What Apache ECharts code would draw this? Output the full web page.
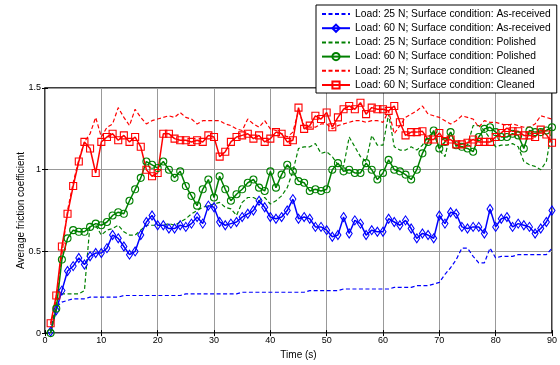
<!DOCTYPE html>
<html>
<head>
<meta charset="utf-8">
<script src="https://cdn.jsdelivr.net/npm/echarts@6/dist/echarts.min.js"></script>
<style>
  html, body { margin: 0; padding: 0; background: #fff; }
  #chart { width: 560px; height: 365px; }
</style>
</head>
<body>
<div id="chart"></div>
<script>
// time in seconds, one reading per second
const time = [];
for (let t = 1; t <= 90; t++) time.push(t);

const xTicks = [0, 10, 20, 30, 40, 50, 60, 70, 80, 90];
const yTicks = [0, 0.5, 1, 1.5];

const names = [
  "Load: 25 N; Surface condition: As-received",
  "Load: 60 N; Surface condition: As-received",
  "Load: 25 N; Surface condition: Polished",
  "Load: 60 N; Surface condition: Polished",
  "Load: 25 N; Surface condition: Cleaned",
  "Load: 60 N; Surface condition: Cleaned"
];

const asRec25 = [0.01, 0.16, 0.19, 0.20, 0.21, 0.21, 0.21, 0.22, 0.22, 0.22,
  0.22, 0.22, 0.22, 0.23, 0.23, 0.23, 0.23, 0.23, 0.23, 0.23,
  0.23, 0.23, 0.23, 0.23, 0.24, 0.24, 0.24, 0.24, 0.24, 0.24,
  0.24, 0.24, 0.24, 0.24, 0.25, 0.25, 0.25, 0.25, 0.25, 0.25,
  0.25, 0.25, 0.25, 0.25, 0.25, 0.25, 0.26, 0.26, 0.26, 0.26,
  0.26, 0.26, 0.27, 0.27, 0.27, 0.27, 0.27, 0.27, 0.27, 0.27,
  0.27, 0.28, 0.28, 0.28, 0.28, 0.29, 0.29, 0.29, 0.30, 0.31,
  0.36, 0.40, 0.45, 0.52, 0.52, 0.47, 0.43, 0.43, 0.52, 0.46,
  0.47, 0.47, 0.47, 0.48, 0.48, 0.48, 0.48, 0.48, 0.48, 0.52];

const asRec60 = [0.01, 0.14, 0.26, 0.38, 0.41, 0.46, 0.42, 0.47, 0.49, 0.49,
  0.52, 0.60, 0.58, 0.53, 0.48, 0.50, 0.60, 0.68, 0.72, 0.66,
  0.66, 0.64, 0.64, 0.66, 0.65, 0.67, 0.71, 0.67, 0.78, 0.77,
  0.68, 0.66, 0.67, 0.68, 0.71, 0.73, 0.75, 0.81, 0.77, 0.71,
  0.70, 0.71, 0.75, 0.82, 0.70, 0.71, 0.70, 0.65, 0.65, 0.63,
  0.59, 0.60, 0.71, 0.61, 0.69, 0.67, 0.60, 0.63, 0.62, 0.62,
  0.70, 0.68, 0.66, 0.69, 0.64, 0.58, 0.61, 0.60, 0.58, 0.72,
  0.67, 0.74, 0.73, 0.65, 0.64, 0.65, 0.65, 0.61, 0.76, 0.65,
  0.70, 0.71, 0.65, 0.67, 0.66, 0.65, 0.61, 0.64, 0.68, 0.75];

const polished25 = [0.01, 0.19, 0.24, 0.24, 0.24, 0.24, 0.26, 0.67, 0.66, 0.60,
  0.63, 0.64, 0.66, 0.62, 0.60, 0.60, 0.63, 0.66, 0.66, 0.66,
  0.66, 0.67, 0.66, 0.68, 0.70, 0.73, 0.75, 0.77, 0.78, 0.79,
  0.80, 0.77, 0.76, 0.72, 0.80, 0.83, 0.83, 0.81, 0.83, 0.79,
  0.81, 0.84, 0.89, 0.99, 1.13, 1.14, 1.14, 1.16, 1.10, 1.11,
  1.08, 1.03, 1.02, 1.20, 1.14, 1.08, 1.05, 1.21, 1.15, 1.15,
  1.34, 1.14, 1.12, 1.12, 1.14, 1.12, 1.15, 1.20, 1.23, 1.12,
  1.08, 1.23, 1.14, 1.14, 1.15, 1.27, 1.27, 1.24, 1.19, 1.14,
  1.15, 1.15, 1.16, 1.14, 1.05, 1.03, 1.02, 1.00, 1.05, 1.25];

const polished60 = [0.00, 0.15, 0.45, 0.58, 0.63, 0.62, 0.62, 0.65, 0.67, 0.66,
  0.68, 0.72, 0.74, 0.73, 0.81, 0.88, 0.95, 1.05, 1.03, 1.01,
  1.05, 1.00, 0.95, 0.99, 0.90, 0.84, 0.78, 0.88, 0.94, 0.83,
  0.96, 0.88, 0.81, 0.85, 0.88, 0.92, 0.94, 0.89, 0.87, 0.99,
  0.89, 0.97, 1.03, 0.99, 0.93, 0.92, 0.87, 0.88, 0.87, 0.88,
  1.00, 1.04, 0.99, 1.00, 0.98, 0.98, 1.04, 1.00, 0.94, 0.98,
  1.06, 1.00, 0.99, 0.97, 0.94, 1.00, 1.10, 1.17, 1.24, 1.13,
  1.17, 1.23, 1.15, 1.14, 1.13, 1.11, 1.20, 1.25, 1.26, 1.23,
  1.20, 1.20, 1.22, 1.21, 1.13, 1.24, 1.23, 1.23, 1.24, 1.26];

const cleaned25 = [0.05, 0.20, 0.48, 0.75, 0.92, 1.06, 1.17, 1.22, 1.32, 1.20,
  1.26, 1.28, 1.38, 1.32, 1.27, 1.37, 1.32, 1.28, 1.30, 1.31,
  1.32, 1.33, 1.32, 1.35, 1.32, 1.31, 1.28, 1.30, 1.30, 1.30,
  1.30, 1.28, 1.27, 1.25, 1.24, 1.31, 1.28, 1.26, 1.30, 1.25,
  1.24, 1.22, 1.20, 1.23, 1.36, 1.27, 1.26, 1.26, 1.28, 1.28,
  1.25, 1.27, 1.28, 1.29, 1.30, 1.30, 1.29, 1.30, 1.30, 1.29,
  1.36, 1.22, 1.27, 1.32, 1.34, 1.36, 1.39, 1.34, 1.33, 1.32,
  1.30, 1.28, 1.30, 1.33, 1.32, 1.31, 1.26, 1.30, 1.29, 1.29,
  1.28, 1.27, 1.28, 1.27, 1.26, 1.26, 1.28, 1.33, 1.32, 1.31];

const cleaned60 = [0.06, 0.23, 0.53, 0.73, 0.90, 1.05, 1.17, 1.13, 0.98, 1.17,
  1.20, 1.22, 1.18, 1.21, 1.17, 1.20, 1.14, 1.00, 0.96, 0.98,
  1.22, 1.22, 1.19, 1.18, 1.18, 1.17, 1.18, 1.17, 1.21, 1.20,
  1.08, 1.11, 1.17, 1.20, 1.21, 1.22, 1.19, 1.21, 1.17, 1.19,
  1.23, 1.22, 1.17, 1.18, 1.38, 1.25, 1.27, 1.33, 1.31, 1.35,
  1.26, 1.32, 1.37, 1.39, 1.37, 1.41, 1.34, 1.38, 1.37, 1.37,
  1.36, 1.39, 1.29, 1.21, 1.23, 1.23, 1.235, 1.185, 1.185, 1.225,
  1.175, 1.185, 1.155, 1.155, 1.165, 1.185, 1.17, 1.17, 1.17, 1.20,
  1.225, 1.255, 1.235, 1.235, 1.21, 1.21, 1.20, 1.245, 1.215, 1.165];

const pairs = vals => time.map((t, i) => [t, vals[i]]);

const font = "Liberation Sans, Arial, sans-serif";
const chart = echarts.init(document.getElementById("chart"));

function dashed(name, vals, color) {
  return {
    name: name,
    type: "line",
    data: pairs(vals),
    symbol: "none",
    itemStyle: { color: color },
    lineStyle: { color: color, width: 1.2, type: [4, 2.5] },
    animation: false,
    z: 2
  };
}

function marked(name, vals, color, symbol, size) {
  return {
    name: name,
    type: "line",
    data: pairs(vals),
    symbol: symbol,
    symbolSize: size,
    showSymbol: true,
    itemStyle: { color: "rgba(255,255,255,0)", borderColor: color, borderWidth: 1.1 },
    lineStyle: { color: color, width: 1.5 },
    animation: false,
    z: 3
  };
}

// dashed entries get no marker in the legend
const legendData = names.map((n, i) => i % 2 === 0 ? { name: n, itemStyle: { opacity: 0 } } : { name: n });

const option = {
  backgroundColor: "#fff",
  textStyle: { fontFamily: font },
  grid: {
    left: 45, right: 5, top: 88, bottom: 26,
    show: true, borderColor: "#000", borderWidth: 1.5, backgroundColor: "transparent"
  },
  legend: {
    data: legendData,
    orient: "vertical",
    left: 316,
    top: 5,
    itemWidth: 28,
    itemHeight: 9,
    itemGap: 2.2,
    padding: [3, 6, 2, 5],
    backgroundColor: "#fff",
    borderColor: "#000",
    borderWidth: 1,
    textStyle: { fontFamily: font, fontSize: 10.3, lineHeight: 12, color: "#000" },
    z: 10
  },
  xAxis: [{
    type: "value",
    min: 0, max: 90, interval: 10,
    name: "Time (s)",
    nameLocation: "middle",
    nameGap: 16,
    nameTextStyle: { fontFamily: font, fontSize: 10, color: "#000" },
    axisLine: { show: false },
    axisTick: { show: true, inside: true, length: 3, lineStyle: { color: "#000" } },
    axisLabel: { fontFamily: font, fontSize: 9, color: "#000", margin: 3,
      formatter: v => xTicks.includes(v) ? String(v) : "" },
    splitLine: { show: true, lineStyle: { color: "#999", width: 1 } }
  }, {
    type: "value", position: "top",
    min: 0, max: 90, interval: 10,
    axisLine: { show: false },
    axisTick: { show: true, inside: true, length: 3, lineStyle: { color: "#000" } },
    axisLabel: { show: false },
    splitLine: { show: false }
  }],
  yAxis: [{
    type: "value",
    min: 0, max: 1.5, interval: 0.5,
    name: "Average friction coefficient",
    nameLocation: "middle",
    nameGap: 19,
    nameMoveOverlap: false,
    nameTextStyle: { fontFamily: font, fontSize: 10, color: "#000" },
    axisLine: { show: false },
    axisTick: { show: true, inside: true, length: 3, lineStyle: { color: "#000" } },
    axisLabel: { fontFamily: font, fontSize: 9, color: "#000", margin: 4,
      formatter: v => yTicks.includes(v) ? String(v) : "" },
    splitLine: { show: true, lineStyle: { color: "#999", width: 1 } }
  }, {
    type: "value", position: "right",
    min: 0, max: 1.5, interval: 0.5,
    axisLine: { show: false },
    axisTick: { show: true, inside: true, length: 3, lineStyle: { color: "#000" } },
    axisLabel: { show: false },
    splitLine: { show: false }
  }],
  series: [
    dashed(names[0], asRec25, "#0000ff"),
    marked(names[1], asRec60, "#0000ff", "diamond", [6, 9]),
    dashed(names[2], polished25, "#008000"),
    marked(names[3], polished60, "#008000", "circle", 7),
    dashed(names[4], cleaned25, "#ff0000"),
    marked(names[5], cleaned60, "#ff0000", "rect", 7)
  ]
};

chart.setOption(option);
</script>
</body>
</html>
